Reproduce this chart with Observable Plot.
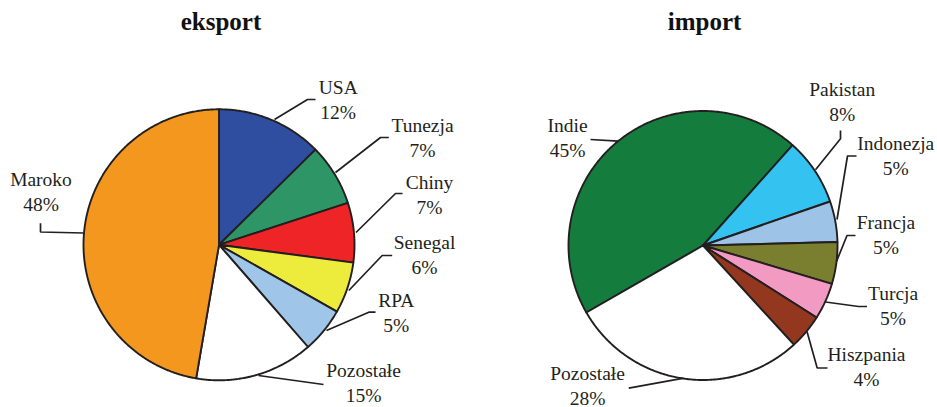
<!DOCTYPE html>
<html><head><meta charset="utf-8">
<script src="https://cdn.jsdelivr.net/npm/d3@7"></script>
<script src="https://cdn.jsdelivr.net/npm/@observablehq/plot@0.6"></script>
<style>
html,body{margin:0;padding:0;background:#fff;}
#wrap{display:flex;width:937px;height:407px;overflow:hidden;}
#wrap svg{display:block;}
</style></head><body><div id="wrap"></div>
<script>
// ---- data ----
const titles = ["eksport", "import"];
const exportNames = ["USA", "Tunezja", "Chiny", "Senegal", "RPA", "Pozostałe", "Maroko"];
const exportValues = [12.6, 7.4, 7.1, 6.1, 5.4, 14.1, 47.3];
const exportLabels = ["12%", "7%", "7%", "6%", "5%", "15%", "48%"];
const importNames = ["Indie", "Pakistan", "Indonezja", "Francja", "Turcja", "Hiszpania", "Pozostałe"];
const importValues = [44.9, 8.1, 4.9, 5.0, 4.4, 4.2, 28.5];
const importLabels = ["45%", "8%", "5%", "5%", "5%", "4%", "28%"];

// ---- styles ----
const exportColors = ["#2F4EA0", "#2E9566", "#EE2426", "#EDEB3C", "#9FC5E8", "#FFFFFF", "#F4971F"];
const importColors = ["#147D3D", "#34C3F0", "#9DC3E6", "#7A7F2F", "#F29AC2", "#93371E", "#FFFFFF"];
const ink = "#231f20";
const fontFamily = "'Liberation Serif', 'Times New Roman', serif";

// ---- layout (pixel offsets from each pie centre) ----
const exportLabelPos = [[119.2,-151],[203.5,-113.3],[210.5,-56],[205.5,4],[177.3,61.7],[144.5,132.4],[-178,-59.3]];
const exportLeaders = [
  [[55.5,-125.3],[88.5,-145.3],[96.5,-145.3]],
  [[116.5,-72.3],[161.5,-107.3],[169.8,-107.3]],
  [[137,-12.3],[176.5,-51.3],[183.5,-51.3]],
  [[129.8,45.7],[163.2,10.7],[173.2,10.7]],
  [[107.5,85.7],[149.8,67.4],[156.5,67.4]],
  [[39.5,130.7],[104.5,139.7]],
  [[-178.5,-21.6],[-178.5,-12.8],[-135.5,-11.8]]
];
const importLabelPos = [[-135.5,-113.3],[139.2,-150],[192.8,-95.7],[183,-16.7],[190,54.3],[163.5,115],[-115.5,134]];
const importLeaders = [
  [[-112.5,-106],[-85,-104.3]],
  [[112.5,-75.7],[137.5,-106.7],[137.5,-115]],
  [[134,-26],[144.5,-89.5],[153.5,-89.5]],
  [[133.5,16],[144,-10],[152.5,-10]],
  [[122.5,56.5],[155.5,61],[164,61]],
  [[104,86],[114.2,122.5],[124.5,122.5]],
  [[-74.2,142.7],[-19.2,132.7]]
];

const H = 407;
const panels = [
  {title: titles[0], names: exportNames, values: exportValues, labels: exportLabels, colors: exportColors,
   labelPos: exportLabelPos, leaders: exportLeaders, width: 468, cx: 218.5, cy: 244.3, r: 135.5, start: 0, titleDx: 2},
  {title: titles[1], names: importNames, values: importValues, labels: importLabels, colors: importColors,
   labelPos: importLabelPos, leaders: importLeaders, width: 469, cx: 234.5, cy: 245, r: 134.5, start: 240.1, titleDx: 1.5}
];

function build(p) {
  const rad = Math.PI / 180;
  const pie = d3.pie().sort(null).value(d => d.value)
    .startAngle(p.start * rad).endAngle(p.start * rad + 2 * Math.PI);
  const arcs = pie(p.names.map((name, i) => ({name, value: p.values[i]})));
  const poly = [];
  for (const a of arcs) {
    const name = a.data.name;
    poly.push({name, x: 0, y: 0});
    const n = Math.max(2, Math.ceil((a.endAngle - a.startAngle) / (0.5 * rad)));
    for (let k = 0; k <= n; k++) {
      const t = a.startAngle + (a.endAngle - a.startAngle) * k / n;
      poly.push({name, x: Math.sin(t), y: Math.cos(t)});
    }
    poly.push({name, x: 0, y: 0});
  }
  const u = ([dx, dy]) => [dx / p.r, -dy / p.r];
  const leaderRows = [];
  p.leaders.forEach((pts, i) => pts.forEach(pt => {
    const [x, y] = u(pt);
    leaderRows.push({name: p.names[i], x, y});
  }));
  const labelRows = p.names.map((name, i) => {
    const [x, y] = u(p.labelPos[i]);
    return {name, pct: p.labels[i], x, y};
  });
  const [tx, ty] = u([p.titleDx, 29.3 - p.cy]);
  return Plot.plot({
    width: p.width, height: H, margin: 0,
    x: {domain: [-p.cx / p.r, (p.width - p.cx) / p.r], axis: null},
    y: {domain: [-(H - p.cy) / p.r, p.cy / p.r], axis: null},
    color: {domain: p.names, range: p.colors},
    style: {fontFamily, background: "white", overflow: "visible"},
    marks: [
      Plot.line(poly, {x: "x", y: "y", z: "name", fill: "name", stroke: ink, strokeWidth: 1.9, strokeLinejoin: "round"}),
      Plot.line(leaderRows, {x: "x", y: "y", z: "name", stroke: ink, strokeWidth: 1.7, strokeLinejoin: "miter", strokeLinecap: "butt"}),
      Plot.text(labelRows, {x: "x", y: "y", text: "name", fill: ink, fontSize: 19.5, lineAnchor: "bottom", textAnchor: "middle"}),
      Plot.text(labelRows, {x: "x", y: "y", text: "pct", fill: ink, fontSize: 19.5, lineAnchor: "bottom", textAnchor: "middle", dy: 25}),
      Plot.text([p.title], {x: () => tx, y: () => ty, text: d => d, fill: "#111", fontSize: 25, fontWeight: "bold", lineAnchor: "bottom", textAnchor: "middle"})
    ]
  });
}

const wrap = document.getElementById("wrap");
for (const p of panels) wrap.appendChild(build(p));
</script>
</body></html>
